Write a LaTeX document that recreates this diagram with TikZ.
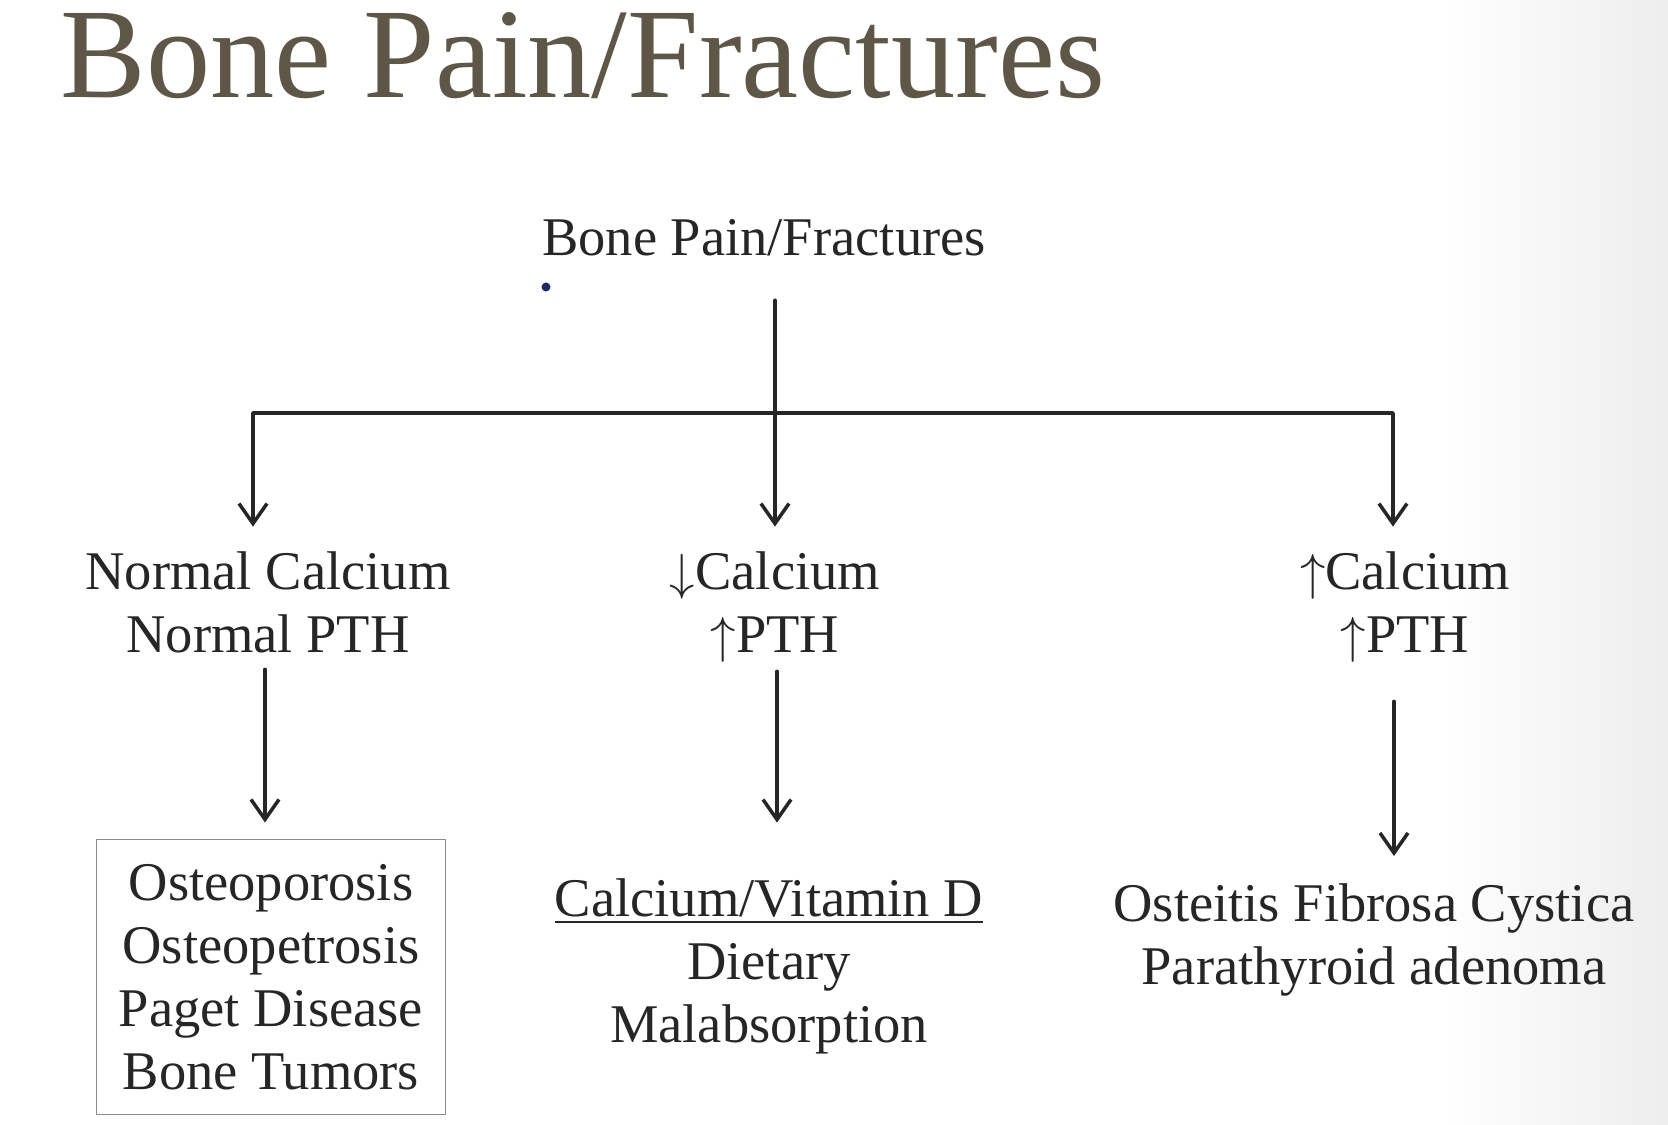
\documentclass[tikz,border=0pt]{standalone}
\usepackage{fontspec}
\setmainfont{Liberation Serif}
\usetikzlibrary{arrows.meta}

\begin{document}
\begin{tikzpicture}[x=0.01cm, y=-0.01cm, line cap=round, line join=round]
  \definecolor{Ink}{HTML}{262626}
  \definecolor{TitleInk}{HTML}{5E5748}
  \definecolor{Bullet}{HTML}{1F2B5E}
  \definecolor{Frame}{HTML}{8A8A8A}

  \tikzset{
    txt/.style={font=\fontsize{15.5}{17.9}\selectfont, text=Ink, align=center, inner sep=0pt},
    link/.style={draw=Ink, line width=1pt},
    drop/.style={link, -{Straight Barb[length=2mm, width=2.8mm]}}
  }

  \useasboundingbox (0,0) rectangle (1668,1125);
  \shade[left color=white, right color=black!7] (1440,0) rectangle (1668,1125);

  % Slide title
  \node[font=\fontsize{36.5}{40}\selectfont, text=TitleInk, anchor=base west, inner sep=0pt] (title) at (60,98) {Bone Pain/Fractures};

  % Top of the tree
  \node[txt, anchor=base] (root) at (764,256) {Bone Pain/Fractures};
  \fill[Bullet] (546,287) circle (0.45mm);

  % Calcium / PTH branches
  \node[txt] (normal) at (268,602) {Normal Calcium\\Normal PTH};
  \node[txt] (lowca) at (775,607) {$\downarrow$Calcium\\$\uparrow$PTH};
  \node[txt] (highca) at (1405,607) {$\uparrow$Calcium\\$\uparrow$PTH};

  % Causes
  \node[txt, draw=Frame, line width=0.5pt, minimum width=3.49cm, minimum height=2.75cm] (boneds) at (271,977)
    {Osteoporosis\\Osteopetrosis\\Paget Disease\\Bone Tumors};
  \node[txt] (vitd) at (769,966) {\underline{Calcium/Vitamin D}\\Dietary\\Malabsorption};
  \node[txt] (pthds) at (1374,940) {Osteitis Fibrosa Cystica\\Parathyroid adenoma};

  % Connectors
  \coordinate (fork) at (775,413);
  \draw[link, shorten <=0.43cm] (fork |- root.south) -- (fork);
  \draw[drop, shorten >=0.24cm] (fork) -| ([xshift=-0.15cm]normal.north);
  \draw[drop, shorten >=0.24cm] (fork) -- (fork |- normal.north);
  \draw[drop, shorten >=0.24cm] (fork) -| ([xshift=-0.12cm]highca.north |- normal.north);

  \draw[drop, shorten <=0.16cm, shorten >=0.16cm] ([xshift=-0.03cm]normal.south) -- ([xshift=-0.03cm]normal.south |- boneds.north);
  \draw[drop, shorten <=0.18cm, shorten >=0.55cm] ([xshift=0.02cm]lowca.south |- normal.south) -- ([xshift=0.02cm]lowca.south |- vitd.north);
  \draw[drop, shorten <=0.48cm, shorten >=0.27cm] ([xshift=-0.11cm]highca.south |- normal.south) -- ([xshift=-0.11cm]highca.south |- pthds.north);
\end{tikzpicture}
\end{document}
